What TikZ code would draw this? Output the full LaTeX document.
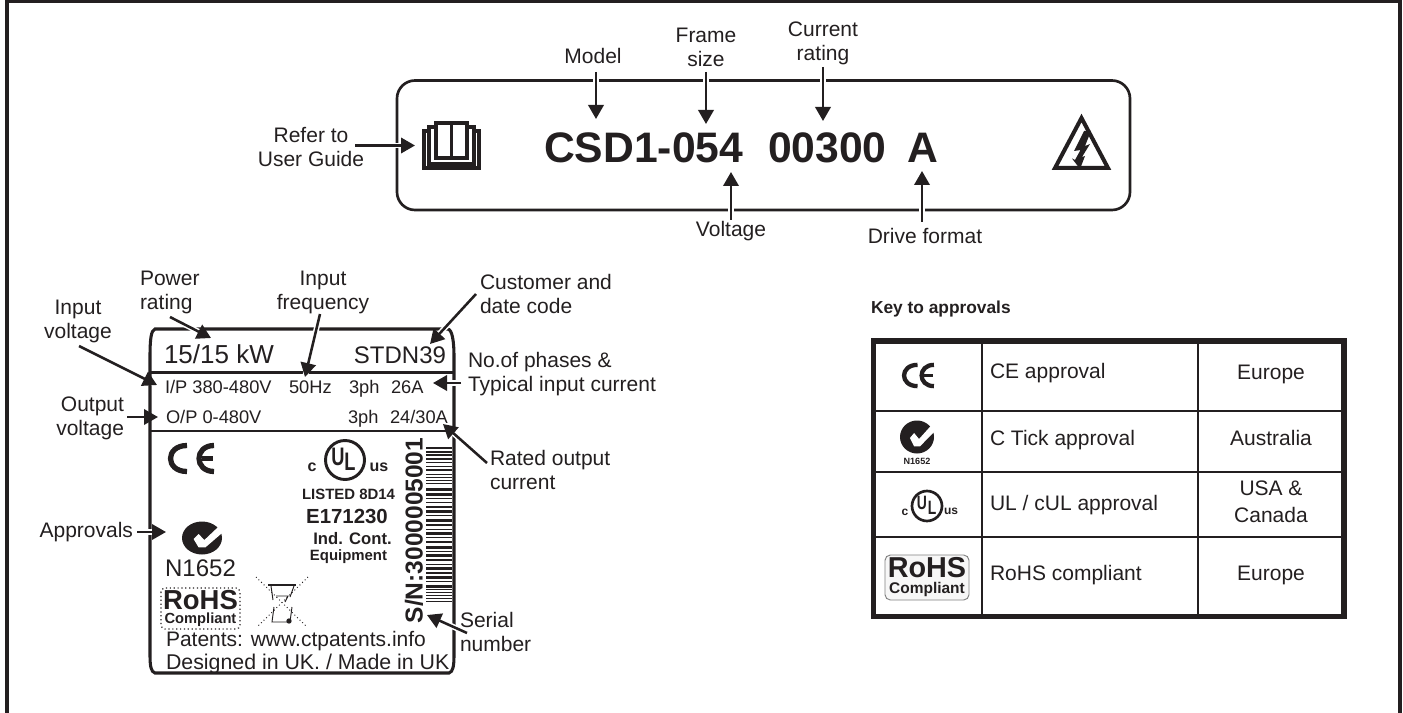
\documentclass[tikz,border=0pt]{standalone}
\usepackage{fontspec}
\setmainfont{Liberation Sans}
\usetikzlibrary{arrows.meta}
\definecolor{ink}{HTML}{231F20}
\newcommand\fsz[1]{\fontsize{#1}{18pt}\selectfont}
\tikzset{
  x=0.75pt,y=-0.75pt,
  every node/.style={inner sep=0pt,outer sep=0pt,text=ink},
  lab/.style={font=\fsz{15.75pt},align=center},
  lableft/.style={font=\fsz{15.75pt},align=left,anchor=west},
  labright/.style={font=\fsz{15.75pt},align=right,anchor=east},
  ratingbig/.style={font=\fsz{19.5pt},anchor=base west},
  ratingrow/.style={font=\fsz{13.7pt},anchor=base west},
  bigcode/.style={font=\fontsize{32pt}{36pt}\selectfont\bfseries,anchor=base west},
  keyhead/.style={font=\fsz{13pt}\bfseries,anchor=west},
  cell/.style={font=\fsz{15.75pt},anchor=west},
  cellc/.style={font=\fsz{15.75pt},align=center},
  logob/.style={font=\fsz{#1}\bfseries},
  callout/.style={draw=ink,line width=1.9pt,-{Triangle[length=10.5pt,width=11.5pt]},
     preaction={draw=white,line width=4.2pt,-}},
  rule/.style={draw=ink,line width=2.2pt},
  cellrule/.style={draw=ink,line width=1.5pt},
}
\newcommand\CElogo[4]{% x, y (left, top), height in px, shift of the E
  \begin{scope}[shift={(#1,#2)},scale=#3/33]
    \draw[ink,line width={#3*0.12pt}] (19,3.5) .. controls (-3,3.5) and (-3,29.5) .. (19,29.5);
    \draw[ink,line width={#3*0.12pt}] ({46+#4},3.5) .. controls ({26+#4},3.5) and ({26+#4},29.5) .. ({46+#4},29.5);
    \draw[ink,line width={#3*0.10pt}] ({34+#4},16.5) -- ({45+#4},16.5);
  \end{scope}}
\newcommand\CTick[4]{% cx cy rx ry
  \fill[ink] (#1,#2) ellipse [x radius=#3*0.75pt,y radius=#4*0.75pt];
  \begin{scope}[shift={(#1,#2)},x=#3*0.75pt,y=-#4*0.75pt]
    \fill[white] (-0.42,0.06) -- (-0.17,-0.24) -- (0.12,0.12) -- (0.88,-0.75) -- (1.05,-0.35) -- (0.17,0.57) -- (-0.17,0.57) -- cycle;
  \end{scope}}
\begin{document}
\begin{tikzpicture}
\useasboundingbox (0,0) rectangle (1403,713);
% page frame
\fill[ink] (5,713) rectangle (9,0);
\fill[ink] (5,0) rectangle (1402,3);
\fill[ink] (1398,0) rectangle (1402,713);

% ---------- model plate
\draw[ink,line width=2pt,rounded corners=18*0.75pt] (397,80.5) rectangle (1130,210);
\node[bigcode] (code1) at (544,163) {CSD1-054};
\node[bigcode] (code2) at (768,163) {00300};
\node[bigcode] (code3) at (907,163) {A};
% book
\begin{scope}[ink,line width=2.4pt]
  \draw[fill=white] (424,131) rectangle (479,168);
  \draw[fill=white] (429,127) rectangle (474,164);
  \draw[fill=white] (436,123) rectangle (467,158);
  \draw (451.5,123) -- (451.5,158);
\end{scope}
\coordinate (book) at (415,145.5);
% warning
\draw[ink,line width=3pt,line join=miter,fill=white] (1081.5,118) -- (1108,168) -- (1055,168) -- cycle;
\fill[ink] (1084,131) -- (1074,151) -- (1080.5,150) -- (1075,160) -- (1072,158.5) -- (1080,169) -- (1085,156) -- (1082,157) -- (1090,144) -- (1085,146) -- (1091,131) -- cycle;

\node[lab] (model) at (593,56) {Model};
\node[lab] (frame) at (706,47) {Frame\\size};
\node[lab] (current) at (823,43) {Current\\rating};
\node[lab] (refer) at (311,147) {Refer to\\User Guide};
\node[lab] (voltage) at (731,231) {Voltage};
\node[lab] (drive) at (925,236) {Drive format};

\coordinate (a1) at (596,72);  \coordinate (a1e) at (596,119);
\coordinate (a2) at (706,72);  \coordinate (a2e) at (706,124);
\coordinate (a3) at (823,67);  \coordinate (a3e) at (823,121);
\coordinate (a4) at (731,220); \coordinate (a4e) at (731,172);
\coordinate (a5) at (922,222); \coordinate (a5e) at (922,171);
\coordinate (a6) at (355,145.5);
\draw[callout] (a1) -- (a1e);
\draw[callout] (a2) -- (a2e);
\draw[callout] (a3) -- (a3e);
\draw[callout] (a4) -- (a4e);
\draw[callout] (a5) -- (a5e);
\draw[callout] (a6) -- (book);

% ---------- rating label
\draw[ink,line width=2.3pt] (155,329) -- (448,329) .. controls (452,330) and (454,340) .. (454,357) -- (454,655)
   .. controls (454,666) and (453,672) .. (449,673) -- (155,673) .. controls (151,672) and (150,666) .. (150,655)
   -- (150,357) .. controls (150,340) and (151,330) .. (155,329) -- cycle;
\draw[rule] (150,372.5) -- (454,372.5);
\draw[rule] (150,431) -- (454,431);

\node[ratingbig] (kw) at (164,363) {15/15 kW};
\node[font=\fsz{18pt},anchor=base east] (stdn) at (446,363) {STDN39};
\node[ratingrow] (ip) at (165,393) {I/P 380-480V};
\node[ratingrow] (hz) at (289,393) {50Hz};
\node[ratingrow] (ph1) at (349,393) {3ph};
\node[ratingrow] (a26) at (391,393) {26A};
\node[ratingrow] (op) at (166,423) {O/P 0-480V};
\node[ratingrow] (ph2) at (348,423) {3ph};
\node[ratingrow] (a24) at (390,423) {24/30A};

\CElogo{168}{442}{33}{0}
% UL on plate
\draw[ink,line width=2.2pt] (345,460) circle [radius=19.5*0.75pt];
\node[logob=19pt,xscale=.72] (ul1) at (338,457) {U};
\node[logob=19pt,xscale=.72] (ul2) at (350,462) {L};
\node[logob=12pt] (ulc) at (312,467) {c};
\node[logob=12pt] (ulus) at (379,467) {us};
\node[logob=11.2pt] (listed) at (348.5,494) {LISTED 8D14};
\node[logob=15.3pt] (e171) at (347,516) {E171230};
\node[font=\fsz{12.5pt}\bfseries] (ind) at (352.5,539) {Ind. Cont.};
\node[logob=11.2pt] (equip) at (348.5,557) {Equipment};
\node[font=\fsz{18.4pt}\bfseries,rotate=90] (sn) at (414,530.5) {S/N:3000005001};
% barcode
\foreach \yy/\tt in {447/2,450.5/2,454/2.2,458/2,461.5/1,466/1.2,469/2,473.5/1,476.5/1,479.5/1.2,483/1,488/3.2,493/3,498/1.2,502/1,506/2,510/2.5,515/1,519/2.8,524/1.5,528.5/1,532/3,537/1.2,541/2,546/2.5,551/1,554/3,559/1.5,564/1,567/2.5,572/1.5,576/3,581/1,584.5/3,589/1,592/1,595/1.2,598/1,600.5/1.2}
  \fill[ink] (426,\yy) rectangle (452,\yy+\tt);

\CTick{202}{538}{20}{16.5}
\node[font=\fsz{18pt}] (n1652) at (200.5,568) {N1652};
\draw[ink,line width=0.9pt,dotted,rounded corners=3pt] (161,588) rectangle (240,629);
\node[font=\fsz{11pt}\bfseries,align=center] (rohs1) at (200.5,608.5) {\fsz{20.6pt}RoHS\\[-7.5pt]\fsz{11pt}Compliant};
% crossed bin
\draw[ink,line width=0.7pt,dotted] (256,577) -- (307,627);
\draw[ink,line width=0.7pt,dotted] (308,577) -- (257,627);
\draw[ink,line width=1.5pt] (268,585) -- (296,585);
\draw[ink,line width=0.7pt] (271,586) -- (273,600) (294,586) -- (290,597) (276,596) -- (288,596) -- (285,602) (274,607) -- (272,622) -- (290,622) -- (292,607);
\fill[ink] (289,621) circle [radius=2pt];
\node[font=\fontsize{15.75pt}{18pt}\selectfont,anchor=base west] (pat) at (166,646) {Patents: www.ctpatents.info};
\node[font=\fontsize{16pt}{18pt}\selectfont,anchor=base west] (des) at (166,669) {Designed in UK. / Made in UK};

\node[lableft] (power) at (140,292) {Power\\rating};
\node[lab] (inv) at (78,321) {Input\\voltage};
\node[labright] (outv) at (124,418) {Output\\voltage};
\node[lab] (inf) at (323,292) {Input\\frequency};
\node[lableft] (cust) at (480,294) {Customer and\\date code};
\node[lableft] (noph) at (468,374) {No.of phases \&\\Typical input current};
\node[lableft] (rated) at (490,470) {Rated output\\current};
\node[labright] (appr) at (133,532) {Approvals};
\node[lableft] (serial) at (460,632) {Serial\\number};

\coordinate (b1) at (170,317);  \coordinate (b1e) at (211,338);
\coordinate (b2) at (79,346);   \coordinate (b2e) at (157,385);
\coordinate (b3) at (127,417);  \coordinate (b3e) at (158,417);
\coordinate (b4) at (320,314);  \coordinate (b4e) at (305,377);
\coordinate (b5) at (476,294);  \coordinate (b5e) at (430,344);
\coordinate (b6) at (461,383);  \coordinate (b6e) at (433,383);
\coordinate (b7) at (487,463);  \coordinate (b7e) at (443,424);
\coordinate (b8) at (137,532);  \coordinate (b8e) at (166,532);
\coordinate (b9) at (467,633);  \coordinate (b9e) at (427,615);
\draw[callout] (b1) -- (b1e);
\draw[callout] (b2) -- (b2e);
\draw[callout] (b3) -- (b3e);
\draw[callout] (b4) -- (b4e);
\draw[callout] (b5) -- (b5e);
\draw[callout] (b6) -- (b6e);
\draw[callout] (b7) -- (b7e);
\draw[callout] (b8) -- (b8e);
\draw[callout] (b9) -- (b9e);

% ---------- key
\node[keyhead] (key) at (871,309) {Key to approvals};
\draw[ink,line width=4.3pt] (873.5,341) rectangle (1344,616.5);
\draw[cellrule] (876,411) -- (1341,411);
\draw[cellrule] (876,472) -- (1341,472);
\draw[cellrule] (876,537) -- (1341,537);
\draw[cellrule] (982,344) -- (982,614);
\draw[cellrule] (1198,344) -- (1198,614);

\CElogo{902}{362}{27}{-7}
\CTick{917}{437}{17}{16.5}
\node[font=\fsz{6.8pt}\bfseries] (tick) at (917,461) {N1652};
\draw[ink,line width=2pt] (927,506) circle [radius=15*0.75pt];
\node[logob=14.5pt,xscale=.72] (tu) at (922,503) {U};
\node[logob=14.5pt,xscale=.72] (tl) at (932,508) {L};
\node[logob=9pt] (tc) at (905,512) {c};
\node[logob=9pt] (tus) at (951,511) {us};
\draw[black!50,line width=0.7pt,rounded corners=4pt,fill=black!3] (885,555) rectangle (969,600);
\node[font=\fsz{11.6pt}\bfseries,align=center] (kr1) at (927,577.5) {\fsz{21.6pt}RoHS\\[-6pt]\fsz{11.6pt}Compliant};

\node[cell] (c1) at (990,373) {CE approval};
\node[cell] (c2) at (990,440) {C Tick approval};
\node[cell] (c3) at (990,505) {UL / cUL approval};
\node[cell] (c4) at (990,575) {RoHS compliant};
\node[cellc] (d1) at (1271,374) {Europe};
\node[cellc] (d2) at (1271,438) {Australia};
\node[cellc] (d3) at (1271,502) {USA \&\\[2pt]Canada};
\node[cellc] (d4) at (1271,575) {Europe};
\end{tikzpicture}
\end{document}
